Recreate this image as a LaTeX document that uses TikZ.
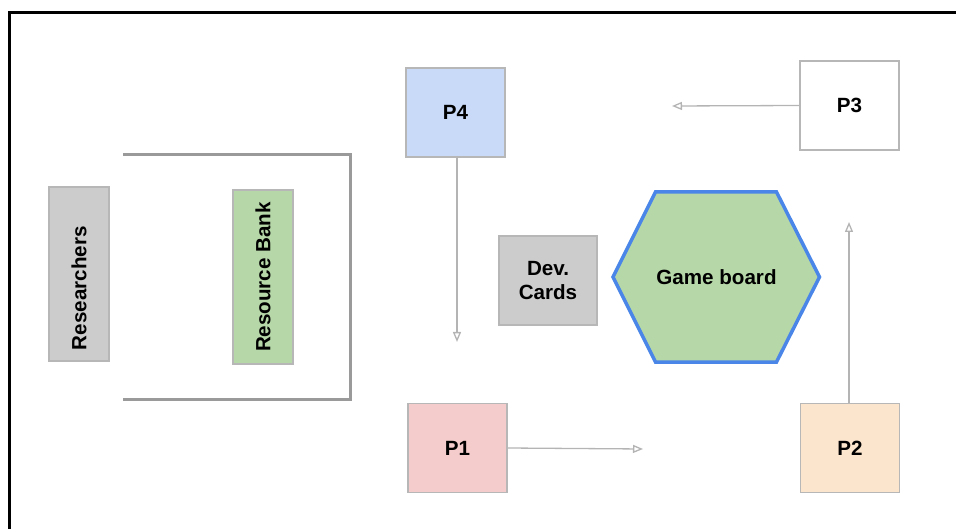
\documentclass[tikz,border=0pt]{standalone}
\usepackage{fontspec}
\setmainfont{Liberation Sans}
\usetikzlibrary{arrows.meta}
\definecolor{boxline}{HTML}{B7B7B7}
\definecolor{conn}{HTML}{B4B4B4}
\definecolor{bracket}{HTML}{9A9A9A}
\definecolor{pblue}{HTML}{C9DAF8}
\definecolor{ppink}{HTML}{F4CCCC}
\definecolor{ppeach}{HTML}{FCE5CD}
\definecolor{pgray}{HTML}{CCCCCC}
\definecolor{pgreen}{HTML}{B6D7A8}
\definecolor{hexblue}{HTML}{4A86E8}
\tikzset{
  lbl/.style={font=\fontsize{20.6}{24.5}\selectfont\bfseries, text=black},
  pbox/.style={lbl, draw=boxline, line width=1.2pt, inner sep=0pt,
    minimum width=99pt, minimum height=89pt},
  vbox/.style={lbl, draw=boxline, line width=1.2pt, rotate=90,
    minimum width=174pt, minimum height=60pt, inner ysep=0pt},
  conn/.style={draw=conn, line width=1.3pt,
    -{Triangle[open, length=10pt, width=8pt]}},
}
\begin{document}
\begin{tikzpicture}[x=1pt, y=-1pt]
\useasboundingbox (0,0) rectangle (956,529);
% frame
\draw[line width=3.5pt, line join=miter] (9.5,529) -- (9.5,12.5) -- (956,12.5);
% bracket
\draw[bracket, line width=3pt, line join=miter] (123,155) -- (350,155) -- (350,399) -- (123,399);
% left boxes
\node[vbox, fill=pgray, inner xsep=11pt, text width=152pt, align=left] (res) at (79,274) {Researchers};
\node[vbox, fill=pgreen, inner xsep=0pt] (bank) at (263,277) {Resource Bank};
% players
\node[pbox, fill=pblue] (p4) at (455.5,112.5) {P4};
\node[pbox, fill=white] (p3) at (849.5,105.5) {P3};
\node[pbox, fill=ppink] (p1) at (457.5,448) {P1};
\node[pbox, fill=ppeach] (p2) at (850,448) {P2};
% dev cards
\node[pbox, fill=pgray, minimum width=98pt, align=center] (dev) at (548,280.5) {Dev.\\Cards};
% game board hexagon
\coordinate (gbc) at (716.5,277);
\draw[hexblue, fill=pgreen, line width=3.5pt, line join=miter]
  (613,277) -- (655.5,192) -- (776.5,192) -- (819.5,277) -- (776.5,362) -- (655.5,362) -- cycle;
\node[lbl] (gb) at (gbc) {Game board};
% connectors
\coordinate (p4end) at (457,342);
\coordinate (p3end) at (672,106);
\coordinate (p1end) at (643,449);
\coordinate (p2end) at (849,222);
\draw[conn] (p4.south -| p4end) -- (p4end);
\draw[conn] (p3.west) -- (p3end);
\draw[conn] (p1.east) -- (p1end);
\draw[conn] (p2.north -| p2end) -- (p2end);
\end{tikzpicture}
\end{document}
